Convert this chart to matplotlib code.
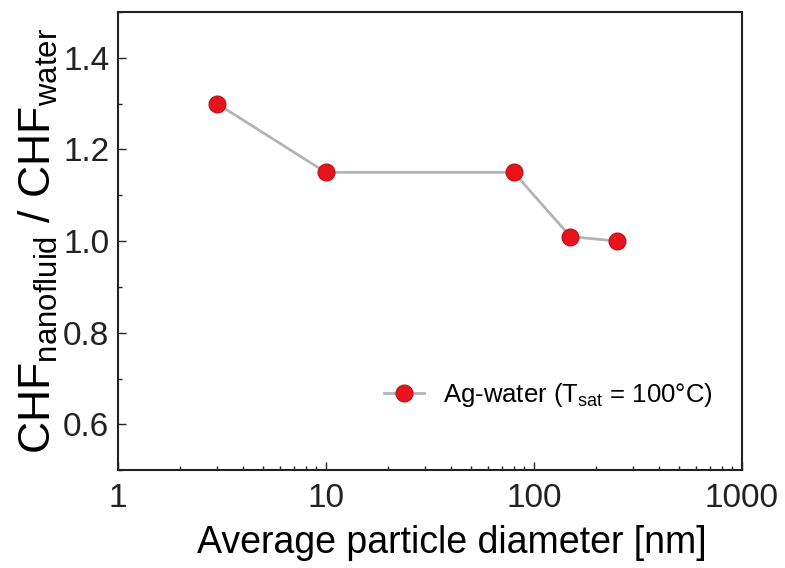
import matplotlib
matplotlib.use("Agg")
import matplotlib.pyplot as plt
from matplotlib.ticker import LogLocator, MultipleLocator, NullFormatter

plt.rcParams['font.family'] = ['Liberation Sans', 'DejaVu Sans']
plt.rcParams['mathtext.fontset'] = 'custom'
plt.rcParams['mathtext.rm'] = 'Liberation Sans'
plt.rcParams['mathtext.it'] = 'Liberation Sans:italic'

# data
diameter_nm = [3, 10, 80, 150, 250]
chf_ratio = [1.30, 1.15, 1.15, 1.01, 1.00]
series_label = 'Ag-water (T$_{\\mathrm{sat}}$ = 100°C)'

fig = plt.figure(figsize=(7.85, 5.68), dpi=100)
ax = fig.add_axes([0.150, 0.172, 0.795, 0.807])

ax.plot(diameter_nm, chf_ratio, color='#b4b4b4', lw=2, marker='o',
        markersize=12, markerfacecolor='#e8141c', markeredgecolor='#c4121a',
        markeredgewidth=1, label=series_label)

ax.set_xscale('log')
ax.set_xlim(1, 1000)
ax.set_ylim(0.5, 1.5)
ax.set_xticks([1, 10, 100, 1000])
ax.set_xticklabels(['1', '10', '100', '1000'])
ax.xaxis.set_minor_locator(LogLocator(base=10, subs=range(2, 10)))
ax.xaxis.set_minor_formatter(NullFormatter())
ax.set_yticks([0.6, 0.8, 1.0, 1.2, 1.4])
ax.set_yticklabels(['0.6', '0.8', '1.0', '1.2', '1.4'])
ax.yaxis.set_minor_locator(MultipleLocator(0.1))

ax.tick_params(which='both', direction='in', top=False, right=False,
               labelsize=24, width=1, colors='#222222')
ax.tick_params(which='major', length=6)
ax.tick_params(axis='y', which='major', pad=6)
ax.tick_params(axis='x', which='major', pad=9)
ax.tick_params(which='minor', length=3)
for s in ax.spines.values():
    s.set_linewidth(1.5)
    s.set_color('#222222')

ax.set_xlabel('Average particle diameter [nm]', fontsize=27)
ax.xaxis.set_label_coords(0.535, -0.12)
ax.set_ylabel('CHF$_{\\mathrm{nanofluid}}$ / CHF$_{\\mathrm{water}}$', fontsize=32)
ax.yaxis.set_label_coords(-0.092, 0.5)

ax.legend(loc='center right', bbox_to_anchor=(0.99, 0.164), frameon=False,
          fontsize=18.5, handlelength=1.55, handletextpad=0.75)

fig.savefig('out.png', dpi=100)
